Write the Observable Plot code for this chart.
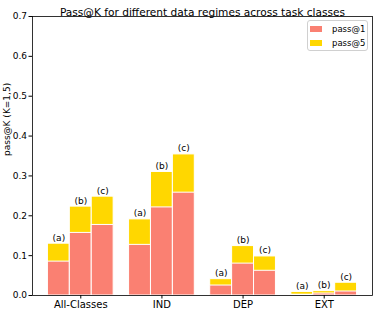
<!DOCTYPE html>
<html>
<head>
<meta charset="utf-8">
<script src="https://cdn.jsdelivr.net/npm/d3@7"></script>
<script src="https://cdn.jsdelivr.net/npm/@observablehq/plot@0.6"></script>
<style>
  html, body { margin: 0; padding: 0; background: white; }
  #wrap { position: relative; width: 374px; height: 315px; font-family: "DejaVu Sans", sans-serif; }
  #legend { position: absolute; left: 307px; top: 20px; width: 61px; height: 31px; box-sizing: border-box;
            border: 1px solid #d0d0d0; border-radius: 3px; background: white; padding: 0; overflow: visible; }
  #legend div { font-family: "DejaVu Sans", sans-serif !important; font-size: 8.5px !important;
                overflow: visible !important; text-overflow: clip !important; white-space: nowrap; }
</style>
</head>
<body>
<div id="wrap"></div>
<script>
const groups = ["All-Classes", "IND", "DEP", "EXT"];
const variants = ["(a)", "(b)", "(c)"];
const pass1 = [
  [0.085, 0.157, 0.177],
  [0.127, 0.221, 0.258],
  [0.025, 0.080, 0.062],
  [0.002, 0.005, 0.010]
];
const pass5 = [
  [0.130, 0.223, 0.248],
  [0.191, 0.310, 0.354],
  [0.041, 0.124, 0.098],
  [0.009, 0.011, 0.032]
];
const seriesNames = ["pass@1", "pass@5"];
const seriesColors = ["#FA8072", "#FFD700"];
const yTicks = [0, 0.1, 0.2, 0.3, 0.4, 0.5, 0.6, 0.7];
const barWidth = 0.27;

const rows = [];
groups.forEach((g, gi) => variants.forEach((v, vi) => {
  const xc = gi + (vi - 1) * barWidth;
  rows.push({group: g, variant: v, x: xc, x1: xc - barWidth / 2, x2: xc + barWidth / 2,
             p1: pass1[gi][vi], p5: pass5[gi][vi]});
}));

const chart = Plot.plot({
  width: 374, height: 315,
  marginLeft: 32, marginRight: 2, marginTop: 16, marginBottom: 20,
  style: {fontFamily: "DejaVu Sans", fontSize: "9px", background: "white", color: "black"},
  x: {domain: [-0.595, 3.595]},
  y: {domain: [0, 0.7]},
  marks: [
    Plot.rect(rows, {x1: "x1", x2: "x2", y1: 0, y2: "p5", fill: seriesColors[1], stroke: "white", strokeWidth: 1}),
    Plot.rect(rows, {x1: "x1", x2: "x2", y1: 0, y2: "p1", fill: seriesColors[0], stroke: "white", strokeWidth: 1}),
    Plot.text(rows, {x: "x", y: "p5", text: "variant", dy: -6, fontSize: 9, fill: "black"}),
    Plot.axisX({ticks: [0, 1, 2, 3], tickFormat: i => groups[i], tickSize: 3.5, tickPadding: 2, fontSize: 10, label: null}),
    Plot.axisY({ticks: yTicks, tickFormat: d3.format(".1f"), tickSize: 3.5, tickPadding: 2, fontSize: 9, label: null}),
    Plot.frame({stroke: "black", strokeWidth: 0.8}),
    Plot.text(["Pass@K for different data regimes across task classes"], {frameAnchor: "top", dy: -8, fontSize: 10.6, fill: "black"}),
    Plot.text(["pass@K (K=1,5)"], {frameAnchor: "left", rotate: -90, dx: -25, fontSize: 9, fill: "black"})
  ]
});

const wrap = document.getElementById("wrap");
wrap.appendChild(chart);

const legend = Plot.legend({
  color: {domain: seriesNames, range: seriesColors},
  legend: "swatches", columns: 1, swatchWidth: 12, swatchHeight: 6,
  style: {fontFamily: "DejaVu Sans", fontSize: "8.5px"}
});
legend.style.margin = "0";
legend.style.minHeight = "0";
legend.style.padding = "1px 0 0 2px";
legend.style.width = "58px";
legend.querySelectorAll("svg").forEach(s => {
  s.style.marginRight = "10px";
  s.style.flexShrink = "0";
  const item = s.parentNode;
  item.style.height = "14px";
  item.style.paddingBottom = "0";
  item.style.display = "flex";
  item.style.alignItems = "center";
  item.style.overflow = "visible";
  item.style.width = "58px";
});
const lw = document.createElement("div");
lw.id = "legend";
lw.appendChild(legend);
wrap.appendChild(lw);
</script>
</body>
</html>
